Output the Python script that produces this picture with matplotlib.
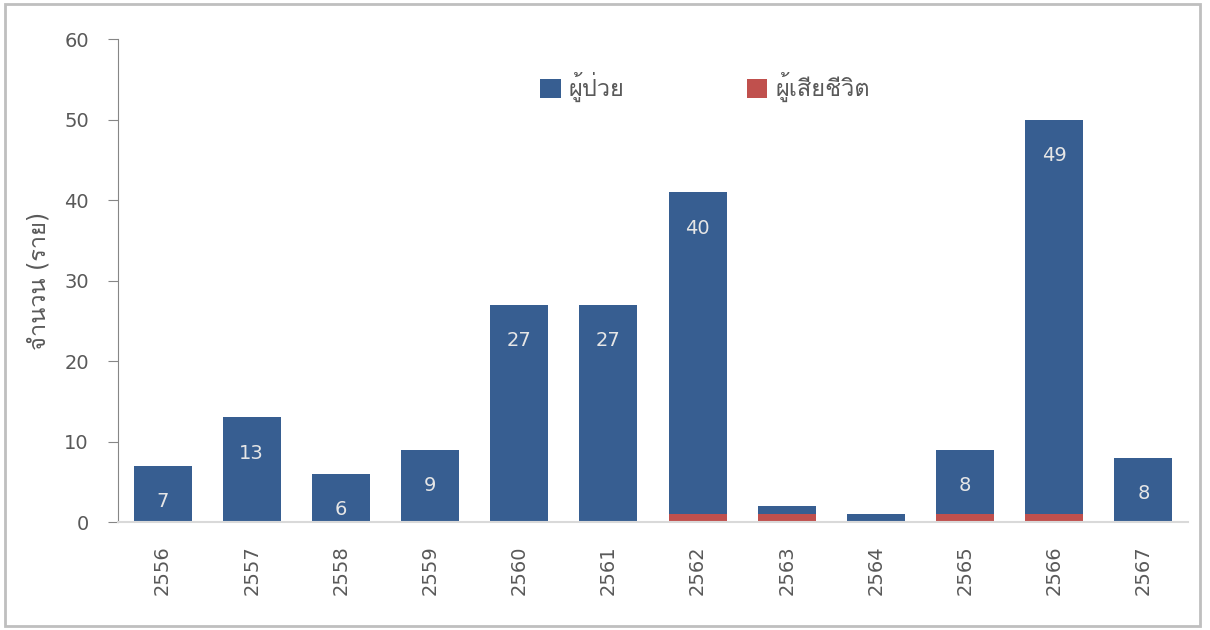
import matplotlib
matplotlib.use('Agg')
import matplotlib.pyplot as plt
from matplotlib.patches import Rectangle

# DejaVu for digits, Loma picks up the Thai glyphs
plt.rcParams['font.family'] = ['DejaVu Sans', 'Loma']

years = ['2556', '2557', '2558', '2559', '2560', '2561',
         '2562', '2563', '2564', '2565', '2566', '2567']
deaths = [0, 0, 0, 0, 0, 0, 1, 1, 0, 1, 1, 0]
patients = [7, 13, 6, 9, 27, 27, 40, 1, 1, 8, 49, 8]
# only these bars carry a value label
labelled = [True, True, True, True, True, True, True, False, False, True, True, True]

blue = '#375E91'
red = '#C0504D'
grey_text = '#595959'

fig = plt.figure(figsize=(12.1, 6.3), dpi=100)
ax = fig.add_axes([0.0975, 0.1714, 0.8843, 0.7666])

x = range(len(years))
ax.bar(x, deaths, width=0.65, color=red, label='ผู้เสียชีวิต', zorder=2)
bars = ax.bar(x, patients, width=0.65, bottom=deaths, color=blue, label='ผู้ป่วย', zorder=2)

for rect, val, show in zip(bars, patients, labelled):
    if not show:
        continue
    top = rect.get_y() + rect.get_height()
    ax.annotate(str(val), (rect.get_x() + rect.get_width() / 2, top),
                xytext=(0, -26), textcoords='offset points',
                ha='center', va='center', fontsize=14, color='#E6E6E6', zorder=3)

ax.set_xlim(-0.5, len(years) - 0.5)
ax.set_ylim(0, 60)
ax.set_yticks(range(0, 61, 10))
ax.set_xticks(list(x))
ax.set_xticklabels(years, rotation=90)

for side in ['top', 'right']:
    ax.spines[side].set_visible(False)
ax.spines['left'].set_color('#868686')
ax.spines['bottom'].set_color('#D9D9D9')
ax.spines['bottom'].set_linewidth(1.5)
ax.tick_params(axis='y', length=7, color='#868686', labelsize=14,
               labelcolor=grey_text, pad=14)
ax.tick_params(axis='x', length=0, labelsize=14, labelcolor=grey_text, pad=17)

ax.set_ylabel('จำนวน (ราย)', fontsize=17, color=grey_text, labelpad=10)

handles, labels = ax.get_legend_handles_labels()
ax.legend(handles[::-1], labels[::-1], ncol=2, frameon=False,
          loc='center', bbox_to_anchor=(0.549, 0.90),
          fontsize=17, handlelength=0.85, handleheight=0.85,
          handletextpad=0.35, columnspacing=5.2, labelcolor=grey_text)

# light frame around the whole chart
fig.patches.append(Rectangle((5 / 1210, 4 / 630), 1195 / 1210, 622 / 630,
                             transform=fig.transFigure, fill=False,
                             edgecolor='#BFBFBF', linewidth=2))

fig.savefig('out.png')
